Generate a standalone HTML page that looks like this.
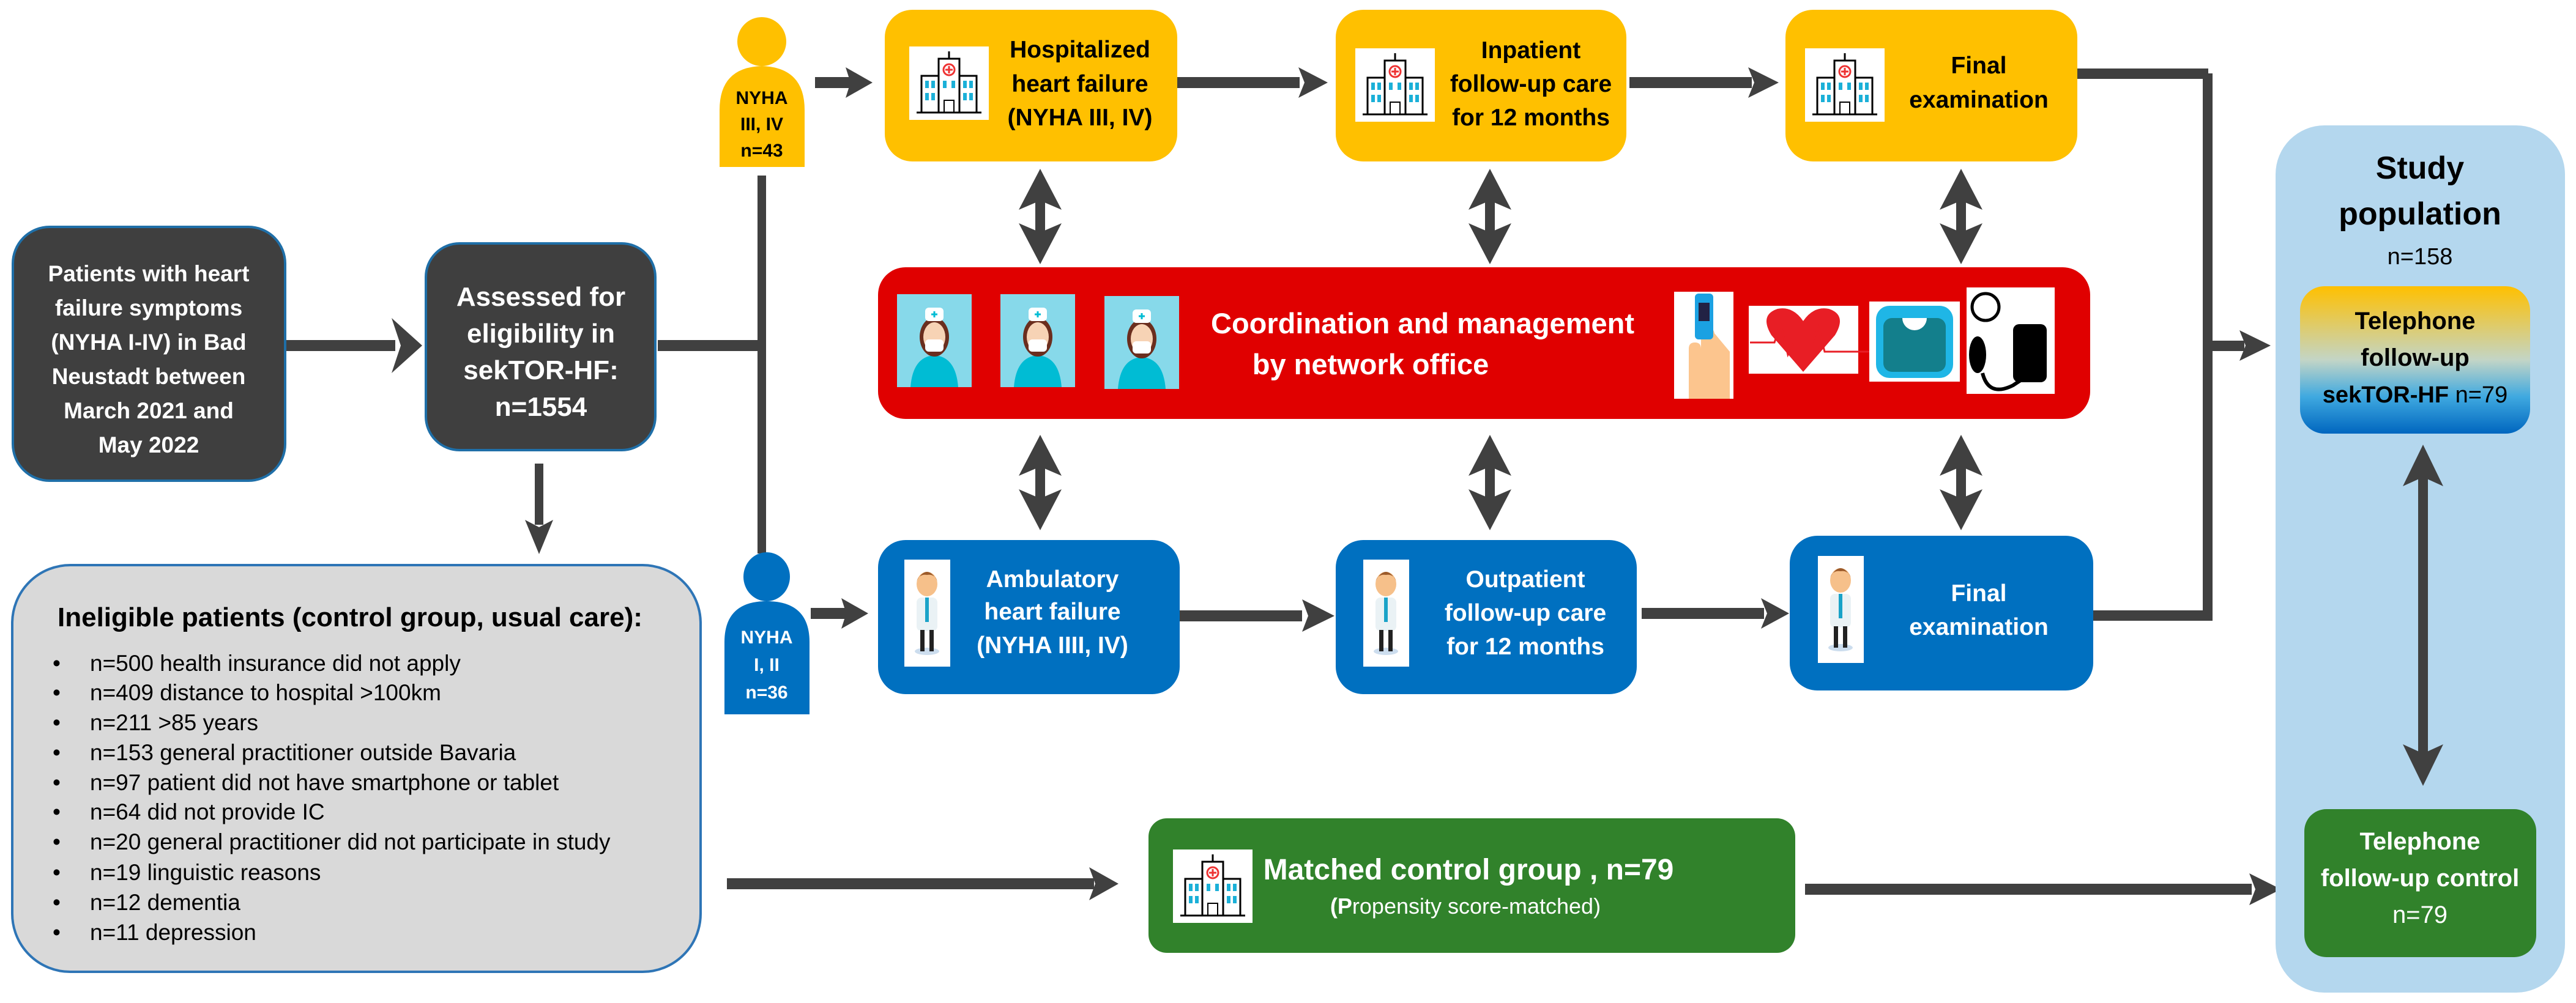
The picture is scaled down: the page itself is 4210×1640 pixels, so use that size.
<!DOCTYPE html>
<html><head><meta charset="utf-8"><style>
html,body{margin:0;padding:0;background:#fff;}
svg{display:block;}
text{font-family:"Liberation Sans",sans-serif;}
</style></head><body>
<svg width="4210" height="1640" viewBox="0 0 4210 1640" xmlns="http://www.w3.org/2000/svg">
<defs>
<linearGradient id="tg" x1="0" y1="0" x2="0" y2="1">
<stop offset="0" stop-color="#FFC000"/><stop offset="0.5" stop-color="#C3D5C6"/><stop offset="0.75" stop-color="#3FA9E0"/><stop offset="1" stop-color="#0066BF"/>
</linearGradient>
<g id="hosp">
<rect x="0" y="0" width="130" height="120" fill="#fff"/>
<rect x="48" y="20" width="34" height="88" fill="#fff" stroke="#000" stroke-width="3"/>
<rect x="20" y="48" width="28" height="60" fill="#fff" stroke="#000" stroke-width="3"/>
<rect x="82" y="48" width="28" height="60" fill="#fff" stroke="#000" stroke-width="3"/>
<circle cx="65" cy="38" r="9" fill="#fff" stroke="#e33" stroke-width="3"/>
<path d="M65 32v12M59 38h12" stroke="#e33" stroke-width="3"/>
<rect x="26" y="56" width="6" height="12" fill="#1BB0D8"/><rect x="36" y="56" width="6" height="12" fill="#1BB0D8"/>
<rect x="88" y="56" width="6" height="12" fill="#1BB0D8"/><rect x="98" y="56" width="6" height="12" fill="#1BB0D8"/>
<rect x="26" y="76" width="6" height="12" fill="#1BB0D8"/><rect x="36" y="76" width="6" height="12" fill="#1BB0D8"/>
<rect x="88" y="76" width="6" height="12" fill="#1BB0D8"/><rect x="98" y="76" width="6" height="12" fill="#1BB0D8"/>
<rect x="55" y="56" width="6" height="12" fill="#1BB0D8"/><rect x="69" y="56" width="6" height="12" fill="#1BB0D8"/>
<rect x="57" y="88" width="16" height="20" fill="#fff" stroke="#000" stroke-width="2"/>
<path d="M12 108h106M65 8v12" stroke="#000" stroke-width="3"/>
</g>
<g id="doc">
<rect x="0" y="0" width="75" height="175" fill="#fff"/>
<ellipse cx="37" cy="150" rx="20" ry="6" fill="#cde"/>
<ellipse cx="37" cy="40" rx="17" ry="20" fill="#F6C08A"/>
<path d="M20 35 q17 -30 34 0 q-5 -12 -17 -10 q-12 -2 -17 10z" fill="#9B5A2A"/>
<rect x="20" y="62" width="34" height="55" rx="8" fill="#EAF2F5"/>
<rect x="34" y="62" width="6" height="40" fill="#1AA3C8"/>
<rect x="26" y="115" width="7" height="35" fill="#222"/><rect x="41" y="115" width="7" height="35" fill="#222"/>
</g>
<g id="nurse">
<rect x="0" y="0" width="122" height="152" fill="#87D9EA"/>
<path d="M22 152 q4 -50 39 -52 q35 2 39 52z" fill="#00BCD4"/>
<ellipse cx="61" cy="70" rx="24" ry="32" fill="#6B2E1E"/>
<ellipse cx="61" cy="70" rx="18" ry="24" fill="#F7D3B5"/>
<rect x="46" y="74" width="30" height="20" rx="6" fill="#fff"/>
<rect x="46" y="22" width="30" height="22" rx="6" fill="#fff"/>
<path d="M61 28v10M56 33h10" stroke="#00BCD4" stroke-width="3"/>
</g>
</defs>

<g fill="#404040" stroke="none">
<rect x="466" y="556" width="180" height="18"/><polygon points="640,520 690,565 640,610 655,565"/>
<rect x="1075" y="556" width="175" height="18"/>
<rect x="1238" y="287" width="14" height="618"/>
<rect x="874" y="758" width="14" height="100"/><polygon points="858,850 881,906 904,850 881,862"/>
<rect x="1332" y="126" width="60" height="18"/><polygon points="1382,110 1426,135 1382,160 1390,135"/>
<rect x="1924" y="126" width="200" height="18"/><polygon points="2122,110 2170,135 2122,160 2132,135"/>
<rect x="2663" y="126" width="200" height="18"/><polygon points="2857,110 2907,135 2857,160 2867,135"/>
<rect x="3395" y="112" width="214" height="17"/>
<rect x="3600" y="120" width="16" height="895"/>
<rect x="3608" y="557" width="60" height="17"/><polygon points="3660,540 3711,565 3660,590 3670,565"/>
<rect x="1325" y="994" width="60" height="18"/><polygon points="1375,978 1419,1003 1375,1028 1383,1003"/>
<rect x="1928" y="998" width="200" height="18"/><polygon points="2128,980 2181,1007 2128,1033 2138,1007"/>
<rect x="2683" y="994" width="200" height="18"/><polygon points="2878,978 2924,1003 2878,1028 2888,1003"/>
<rect x="3421" y="998" width="193" height="17"/>
<rect x="1188" y="1436" width="600" height="18"/><polygon points="1780,1418 1828,1445 1780,1472 1790,1445"/>
<rect x="2950" y="1445" width="730" height="18"/><polygon points="3676,1428 3728,1454 3676,1480 3686,1454"/>
</g>

<g fill="#404040">
<g id="da1">
<rect x="1692" y="300" width="16" height="110"/>
<polygon points="1700,276 1735,343 1700,328 1665,343"/>
<polygon points="1700,432 1735,365 1700,380 1665,365"/>
</g>
<use href="#da1" transform="translate(0,435)"/>
<use href="#da1" transform="translate(735,0)"/>
<use href="#da1" transform="translate(735,435)"/>
<use href="#da1" transform="translate(1505,0)"/>
<use href="#da1" transform="translate(1505,435)"/>
</g>

<rect x="3719" y="205" width="473" height="1418" rx="80" fill="#B4D7EE"/>
<g fill="#404040">
<rect x="3952" y="750" width="16" height="510"/>
<polygon points="3960,727 3993,795 3960,780 3927,795"/>
<polygon points="3960,1285 3993,1217 3960,1232 3927,1217"/>
</g>
<text x="3955" y="292" font-size="52" font-weight="bold" text-anchor="middle" fill="#000">Study</text>
<text x="3955" y="367" font-size="52" font-weight="bold" text-anchor="middle" fill="#000">population</text>
<text x="3955" y="432" font-size="38" text-anchor="middle" fill="#000">n=158</text>
<rect x="3759" y="468" width="376" height="241" rx="40" fill="url(#tg)"/>
<text x="3947" y="538" font-size="40" font-weight="bold" text-anchor="middle" fill="#000">Telephone</text>
<text x="3947" y="598" font-size="40" font-weight="bold" text-anchor="middle" fill="#000">follow-up</text>
<text x="3947" y="658" font-size="38" text-anchor="middle" fill="#000"><tspan font-weight="bold">sekTOR-HF</tspan> n=79</text>
<rect x="3766" y="1323" width="379" height="242" rx="36" fill="#31822B"/>
<text x="3955" y="1389" font-size="40" font-weight="bold" text-anchor="middle" fill="#fff">Telephone</text>
<text x="3955" y="1449" font-size="40" font-weight="bold" text-anchor="middle" fill="#fff">follow-up control</text>
<text x="3955" y="1509" font-size="40" text-anchor="middle" fill="#fff">n=79</text>

<rect x="21" y="371" width="445" height="415" rx="60" fill="#3F3F3F" stroke="#1F6FA8" stroke-width="4"/>
<g font-size="37" font-weight="bold" fill="#fff" text-anchor="middle">
<text x="243" y="460">Patients with heart</text>
<text x="243" y="516">failure symptoms</text>
<text x="243" y="572">(NYHA I-IV) in Bad</text>
<text x="243" y="628">Neustadt between</text>
<text x="243" y="684">March 2021 and</text>
<text x="243" y="740">May 2022</text>
</g>
<rect x="696" y="398" width="375" height="338" rx="55" fill="#3F3F3F" stroke="#1F6FA8" stroke-width="4"/>
<g font-size="44" font-weight="bold" fill="#fff" text-anchor="middle">
<text x="884" y="500">Assessed for</text>
<text x="884" y="560">eligibility in</text>
<text x="884" y="620">sekTOR-HF:</text>
<text x="884" y="680">n=1554</text>
</g>

<rect x="20" y="924" width="1125" height="665" rx="95" fill="#D9D9D9" stroke="#2E75B6" stroke-width="4"/>
<text x="94" y="1024" font-size="44" font-weight="bold" fill="#000">Ineligible patients (control group, usual care):</text>
<g font-size="37" fill="#000">
<text x="86" y="1097">•</text><text x="147" y="1097">n=500 health insurance did not apply</text>
<text x="86" y="1145">•</text><text x="147" y="1145">n=409 distance to hospital &gt;100km</text>
<text x="86" y="1194">•</text><text x="147" y="1194">n=211 &gt;85 years</text>
<text x="86" y="1243">•</text><text x="147" y="1243">n=153 general practitioner outside Bavaria</text>
<text x="86" y="1292">•</text><text x="147" y="1292">n=97 patient did not have smartphone or tablet</text>
<text x="86" y="1340">•</text><text x="147" y="1340">n=64 did not provide IC</text>
<text x="86" y="1389">•</text><text x="147" y="1389">n=20 general practitioner did not participate in study</text>
<text x="86" y="1439">•</text><text x="147" y="1439">n=19 linguistic reasons</text>
<text x="86" y="1488">•</text><text x="147" y="1488">n=12 dementia</text>
<text x="86" y="1537">•</text><text x="147" y="1537">n=11 depression</text>
</g>

<ellipse cx="1245" cy="68" rx="40" ry="40" fill="#FFC000"/>
<path d="M1176 273 V180 Q1176 110 1245 108 Q1315 110 1315 180 V273z" fill="#FFC000"/>
<g font-size="30" font-weight="bold" fill="#000" text-anchor="middle">
<text x="1245" y="170">NYHA</text><text x="1245" y="213">III, IV</text><text x="1245" y="256">n=43</text>
</g>
<ellipse cx="1253" cy="943" rx="38" ry="40" fill="#0070C0"/>
<path d="M1184 1168 V1050 Q1184 983 1253 983 Q1323 983 1323 1050 V1168z" fill="#0070C0"/>
<g font-size="30" font-weight="bold" fill="#fff" text-anchor="middle">
<text x="1253" y="1052">NYHA</text><text x="1253" y="1097">I, II</text><text x="1253" y="1142">n=36</text>
</g>

<rect x="1446" y="16" width="478" height="248" rx="45" fill="#FFC000"/>
<use href="#hosp" x="1486" y="76"/>
<g font-size="39" font-weight="bold" fill="#000" text-anchor="middle">
<text x="1765" y="94">Hospitalized</text><text x="1765" y="150">heart failure</text><text x="1765" y="205">(NYHA III, IV)</text>
</g>
<rect x="2183" y="16" width="475" height="248" rx="45" fill="#FFC000"/>
<use href="#hosp" x="2215" y="79"/>
<g font-size="39" font-weight="bold" fill="#000" text-anchor="middle">
<text x="2502" y="95">Inpatient</text><text x="2502" y="150">follow-up care</text><text x="2502" y="205">for 12 months</text>
</g>
<rect x="2918" y="16" width="477" height="248" rx="45" fill="#FFC000"/>
<use href="#hosp" x="2950" y="79"/>
<g font-size="39" font-weight="bold" fill="#000" text-anchor="middle">
<text x="3234" y="120">Final</text><text x="3234" y="176">examination</text>
</g>

<rect x="1435" y="437" width="1981" height="248" rx="45" fill="#E00000"/>
<use href="#nurse" x="1466" y="481"/>
<use href="#nurse" x="1635" y="481"/>
<use href="#nurse" x="1805" y="484"/>
<g font-size="47" font-weight="bold" fill="#fff" text-anchor="middle">
<text x="2325" y="545">Coordination and management</text>
<text x="2240" y="612">by network office</text>
</g>
<rect x="2736" y="477" width="97" height="175" fill="#fff"/>
<path d="M2760 652 V570 q0 -10 10 -10 q10 0 10 10 V545 q0 -10 10 -10 q10 0 12 10 l25 30 V652z" fill="#FCC58E"/>
<rect x="2770" y="480" width="30" height="75" rx="6" fill="#1BA1E2"/><rect x="2776" y="495" width="18" height="30" fill="#224"/>
<rect x="2858" y="500" width="179" height="111" fill="#fff"/>
<path d="M2947 608 L2895 548 Q2875 515 2905 505 Q2930 500 2947 525 Q2964 500 2989 505 Q3019 515 2999 548z" fill="#E81E25"/>
<path d="M2860 560 h40 l10 -30 l12 50 l10 -20 h30 l10 -25 l10 40 h105" fill="none" stroke="#E81E25" stroke-width="3"/>
<rect x="3055" y="493" width="148" height="131" fill="#fff"/>
<rect x="3066" y="500" width="126" height="118" rx="22" fill="#1FB6E6"/>
<rect x="3078" y="520" width="102" height="88" rx="14" fill="#137F8C"/>
<path d="M3109 520 a20 20 0 0 0 40 0z" fill="#fff"/>
<rect x="3214" y="470" width="144" height="174" fill="#fff"/>
<circle cx="3245" cy="502" r="22" fill="#fff" stroke="#000" stroke-width="5"/>
<ellipse cx="3232" cy="580" rx="14" ry="30" fill="#000"/>
<rect x="3290" y="530" width="55" height="95" rx="10" fill="#000"/>
<path d="M3240 610 q10 40 50 20 q30 -20 20 -10" fill="none" stroke="#000" stroke-width="6"/>

<rect x="1435" y="883" width="493" height="252" rx="45" fill="#0070C0"/>
<use href="#doc" x="1478" y="915"/>
<g font-size="39" font-weight="bold" fill="#fff" text-anchor="middle">
<text x="1720" y="960">Ambulatory</text><text x="1720" y="1013">heart failure</text><text x="1720" y="1068">(NYHA IIII, IV)</text>
</g>
<rect x="2183" y="883" width="492" height="252" rx="45" fill="#0070C0"/>
<use href="#doc" x="2228" y="915"/>
<g font-size="39" font-weight="bold" fill="#fff" text-anchor="middle">
<text x="2493" y="960">Outpatient</text><text x="2493" y="1015">follow-up care</text><text x="2493" y="1070">for 12 months</text>
</g>
<rect x="2925" y="876" width="496" height="253" rx="45" fill="#0070C0"/>
<use href="#doc" x="2971" y="909"/>
<g font-size="39" font-weight="bold" fill="#fff" text-anchor="middle">
<text x="3234" y="983">Final</text><text x="3234" y="1038">examination</text>
</g>

<rect x="1877" y="1338" width="1057" height="220" rx="30" fill="#31822B"/>
<use href="#hosp" x="1917" y="1389"/>
<text x="2400" y="1438" font-size="48" font-weight="bold" fill="#fff" text-anchor="middle">Matched control group , n=79</text>
<text x="2395" y="1494" font-size="36" fill="#fff" text-anchor="middle"><tspan font-weight="bold">(P</tspan>ropensity score-matched)</text>
</svg>
</body></html>
